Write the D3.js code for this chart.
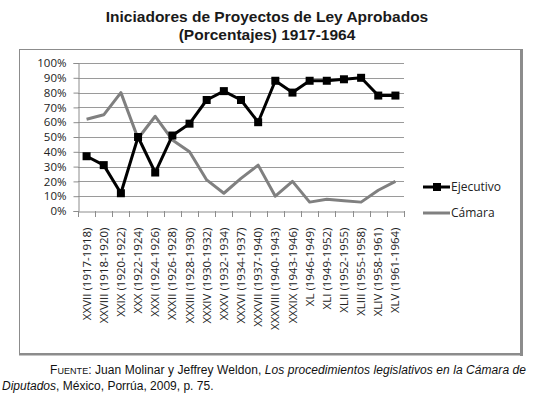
<!DOCTYPE html>
<html>
<head>
<meta charset="utf-8">
<script src="https://cdn.jsdelivr.net/npm/d3@7"></script>
<style>
  html, body { margin: 0; padding: 0; background: #fff; }
  svg { display: block; }
</style>
</head>
<body>
<svg id="chart" width="534" height="396"></svg>
<script>
const categories = [
  "XXVII (1917-1918)", "XXVIII (1918-1920)", "XXIX (1920-1922)", "XXX (1922-1924)",
  "XXXI (1924-1926)", "XXXII (1926-1928)", "XXXIII (1928-1930)", "XXXIV (1930-1932)",
  "XXXV (1932-1934)", "XXXVI (1934-1937)", "XXXVII (1937-1940)", "XXXVIII (1940-1943)",
  "XXXIX (1943-1946)", "XL (1946-1949)", "XLI (1949-1952)", "XLII (1952-1955)",
  "XLIII (1955-1958)", "XLIV (1958-1961)", "XLV (1961-1964)"
];
const ejecutivo = [37, 31, 12, 50, 26, 51, 59, 75, 81, 75, 60, 88, 80, 88, 88, 89, 90, 78, 78];
const camara    = [62, 65, 80, 49, 64, 48, 40, 21, 12, 22, 31, 10, 20, 6, 8, 7, 6, 14, 20];
const yTicks = [0, 10, 20, 30, 40, 50, 60, 70, 80, 90, 100];
const seriesNames = ["Ejecutivo", "Cámara"];
const titleLines = ["Iniciadores de Proyectos de Ley Aprobados", "(Porcentajes) 1917-1964"];

(function () {
const svg = d3.select("#chart");
const axisFont = "'Open Sans', 'DejaVu Sans', sans-serif";

// Title
svg.selectAll("text.title").data(titleLines).enter().append("text")
  .attr("class", "title")
  .attr("x", 267).attr("y", (d, i) => 22 + i * 18)
  .attr("text-anchor", "middle")
  .attr("font-family", "'Liberation Sans', Arial, sans-serif")
  .attr("font-size", 15.5).attr("font-weight", "bold")
  .attr("fill", "#1a1a1a")
  .text(d => d);

// Frame
svg.append("rect").attr("x", 19.5).attr("y", 49.5).attr("width", 501).attr("height", 304)
  .attr("fill", "none").attr("stroke", "#8c8c8c").attr("stroke-width", 1);
svg.append("line").attr("x1", 521.5).attr("x2", 521.5).attr("y1", 49).attr("y2", 356)
  .attr("stroke", "#8c8c8c").attr("stroke-width", 3);
svg.append("line").attr("x1", 19).attr("x2", 523).attr("y1", 354.5).attr("y2", 354.5)
  .attr("stroke", "#8c8c8c").attr("stroke-width", 2);

const pl = 78, pr = 404, pt = 63, pb = 211;
const x = d3.scaleBand().domain(categories).range([pl, pr]);
const y = d3.scaleLinear().domain([0, 100]).range([pb, pt]);
const cx = d => x(d) + x.bandwidth() / 2;

// Gridlines
svg.append("g").selectAll("line").data(yTicks.filter(t => t > 0)).enter().append("line")
  .attr("x1", pl).attr("x2", pr)
  .attr("y1", d => Math.round(y(d)) + 0.5).attr("y2", d => Math.round(y(d)) + 0.5)
  .attr("stroke", "#9a9a9a").attr("stroke-width", 1);

// Y axis
const yAxis = svg.append("g").attr("transform", `translate(${pl + 0.5},0)`)
  .call(d3.axisLeft(y).tickValues(yTicks).tickFormat(d => d + "%").tickSize(5).tickPadding(7));
yAxis.select(".domain").attr("stroke", "#8c8c8c");
yAxis.selectAll(".tick line").attr("stroke", "#8c8c8c");
yAxis.selectAll(".tick text").attr("font-family", axisFont).attr("font-size", 11.5).attr("fill", "#222");

// X axis
const xAxis = svg.append("g").attr("transform", `translate(0,${pb + 0.5})`)
  .call(d3.axisBottom(x).tickSize(0).tickPadding(0));
xAxis.select(".domain").attr("stroke", "#8c8c8c");
xAxis.selectAll(".tick text")
  .attr("font-family", axisFont).attr("font-size", 11.5).attr("fill", "#222")
  .attr("text-anchor", "end")
  .attr("transform", "rotate(-90)")
  .attr("x", -16).attr("y", 0).attr("dy", "0.35em");
// boundary ticks
const bounds = categories.map(c => x(c)).concat([pr]);
svg.append("g").selectAll("line").data(bounds).enter().append("line")
  .attr("x1", d => Math.round(d) + 0.5).attr("x2", d => Math.round(d) + 0.5)
  .attr("y1", pb).attr("y2", pb + 6)
  .attr("stroke", "#8c8c8c");

// Lines
const line = vals => d3.line().x((d, i) => cx(categories[i])).y(d => y(d))(vals);
svg.append("path").attr("d", line(camara)).attr("fill", "none")
  .attr("stroke", "#808080").attr("stroke-width", 3).attr("stroke-linejoin", "round");
svg.append("path").attr("d", line(ejecutivo)).attr("fill", "none")
  .attr("stroke", "#000").attr("stroke-width", 3).attr("stroke-linejoin", "round");
svg.append("g").selectAll("rect").data(ejecutivo).enter().append("rect")
  .attr("x", (d, i) => cx(categories[i]) - 4).attr("y", d => y(d) - 4)
  .attr("width", 8).attr("height", 8).attr("fill", "#000");

// Legend
const leg = svg.append("g");
const legY = [187, 213];
leg.append("line").attr("x1", 423).attr("x2", 450).attr("y1", legY[0]).attr("y2", legY[0])
  .attr("stroke", "#000").attr("stroke-width", 3);
leg.append("rect").attr("x", 433).attr("y", legY[0] - 4).attr("width", 8).attr("height", 8).attr("fill", "#000");
leg.append("line").attr("x1", 423).attr("x2", 450).attr("y1", legY[1]).attr("y2", legY[1])
  .attr("stroke", "#808080").attr("stroke-width", 3);
leg.selectAll("text").data(seriesNames).enter().append("text")
  .attr("x", 451).attr("y", (d, i) => legY[i]).attr("dy", "0.35em")
  .attr("font-family", axisFont).attr("font-size", 12).attr("fill", "#222")
  .text(d => d);

// Footer
const foot = svg.append("text").attr("font-family", "'Liberation Sans', Arial, sans-serif")
  .attr("font-size", 12).attr("fill", "#111")
  .attr("x", 50).attr("y", 374)
  .attr("textLength", 476).attr("lengthAdjust", "spacing");
foot.append("tspan").text("F");
foot.append("tspan").attr("font-size", 9).text("UENTE");
foot.append("tspan").text(": Juan Molinar y Jeffrey Weldon, ");
foot.append("tspan").attr("font-style", "italic").text("Los procedimientos legislativos en la Cámara de");
const l2 = svg.append("text").attr("font-family", "'Liberation Sans', Arial, sans-serif")
  .attr("font-size", 12).attr("fill", "#111").attr("x", 2).attr("y", 390);
l2.append("tspan").attr("font-style", "italic").text("Diputados");
l2.append("tspan").text(", México, Porrúa, 2009, p. 75.");
})();
</script>
</body>
</html>
